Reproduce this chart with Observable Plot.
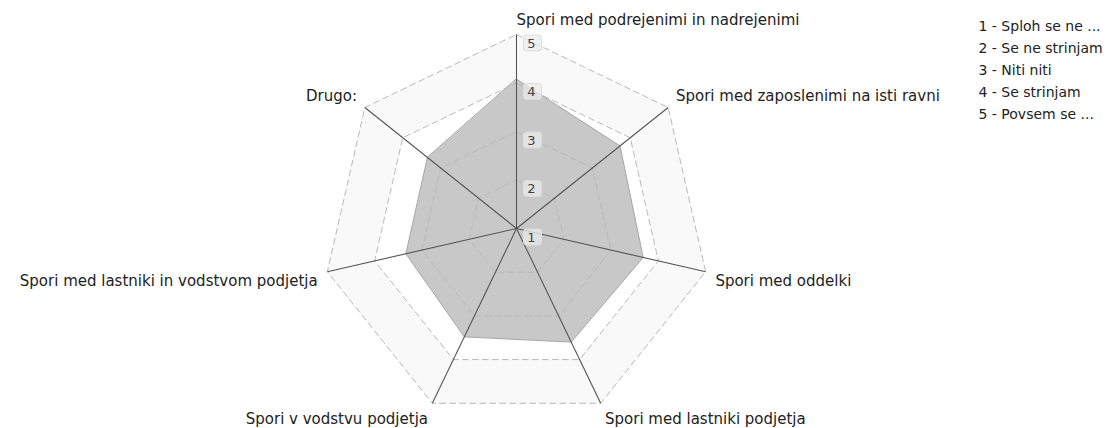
<!DOCTYPE html>
<html><head><meta charset="utf-8">
<script src="https://cdn.jsdelivr.net/npm/d3@7"></script>
<script src="https://cdn.jsdelivr.net/npm/@observablehq/plot@0.6"></script>
<style>
body{margin:0;background:#fff;}
#chart{width:1108px;height:428px;overflow:hidden;}
</style></head><body><div id="chart"></div>
<script>
const categories = [
  "Spori med podrejenimi in nadrejenimi",
  "Spori med zaposlenimi na isti ravni",
  "Spori med oddelki",
  "Spori med lastniki podjetja",
  "Spori v vodstvu podjetja",
  "Spori med lastniki in vodstvom podjetja",
  "Drugo:"
];
const values = [4.08, 3.73, 3.68, 3.60, 3.48, 3.34, 3.35];
const levels = [1, 2, 3, 4, 5];
const legendLabels = [
  "1 - Sploh se ne ...",
  "2 - Se ne strinjam",
  "3 - Niti niti",
  "4 - Se strinjam",
  "5 - Povsem se ..."
];

const n = categories.length;
const idx = d3.range(n);
const ang = i => i * 2 * Math.PI / n;
const px = (i, v) => (v - 1) * Math.sin(ang(i));
const py = (i, v) => (v - 1) * Math.cos(ang(i));
const maxLevel = d3.max(levels);
const labelLevel = maxLevel + 0.206;

const W = 1108, H = 428, CX = 516, CY = 228, R = 194;

const boxSymbol = {
  draw(ctx) {
    const w = 18, h = 16, r = 3;
    ctx.moveTo(-w/2 + r, -h/2);
    ctx.lineTo(w/2 - r, -h/2);
    ctx.arcTo(w/2, -h/2, w/2, -h/2 + r, r);
    ctx.lineTo(w/2, h/2 - r);
    ctx.arcTo(w/2, h/2, w/2 - r, h/2, r);
    ctx.lineTo(-w/2 + r, h/2);
    ctx.arcTo(-w/2, h/2, -w/2, h/2 - r, r);
    ctx.lineTo(-w/2, -h/2 + r);
    ctx.arcTo(-w/2, -h/2, -w/2 + r, -h/2, r);
    ctx.closePath();
  }
};

const marks = [];
// background bands
for (const lvl of [5, 4, 3, 2]) {
  marks.push(Plot.line(idx, {
    x: i => px(i, lvl), y: i => py(i, lvl),
    curve: "linear-closed", fill: lvl % 2 ? "#f9f9f9" : "#ffffff", stroke: "none"
  }));
}
// data polygon
marks.push(Plot.line(idx, {
  x: i => px(i, values[i]), y: i => py(i, values[i]),
  curve: "linear-closed", fill: "#c8c8c8", stroke: "#a6a6a6", strokeWidth: 1
}));
// dashed rings
for (const lvl of levels.filter(l => l > 1)) {
  marks.push(Plot.line(idx, {
    x: i => px(i, lvl), y: i => py(i, lvl),
    curve: "linear-closed", stroke: "#b9b9b9", strokeWidth: 1, strokeDasharray: "6,4"
  }));
}
// axes
marks.push(Plot.link(idx, {
  x1: 0, y1: 0, x2: i => px(i, maxLevel), y2: i => py(i, maxLevel),
  stroke: "#555", strokeWidth: 1.1
}));
// level labels
marks.push(Plot.dot(levels, {
  x: 0, y: d => d - 1, dx: 16, dy: 8.5, symbol: boxSymbol, r: 5,
  fill: "#ebebeb", fillOpacity: 0.75, stroke: "#dddddd", strokeWidth: 1
}));
marks.push(Plot.text(levels, {
  x: 0, y: d => d - 1, dx: 15, dy: 9, text: d => String(d),
  fontSize: 13, fill: "#444"
}));
// axis labels
for (const right of [true, false]) {
  for (const top of [true, false]) {
    const sel = idx.filter(i => (Math.sin(ang(i)) >= -1e-9) === right && (Math.cos(ang(i)) > 0) === top);
    marks.push(Plot.text(sel, {
      x: i => px(i, labelLevel), y: i => py(i, labelLevel),
      text: i => categories[i],
      textAnchor: right ? "start" : "end",
      lineAnchor: top ? "bottom" : "top",
      dy: top ? 0 : 1,
      fontSize: 15, fill: "#222"
    }));
  }
}
// legend
marks.push(Plot.text([legendLabels.join("\n")], {
  frameAnchor: "top-left",
  dx: 978 - (CX - R), dy: (23 + 44) - (CY - R),
  lineAnchor: "middle", lineHeight: 22 / 14, textAnchor: "start",
  fontSize: 14, fill: "#222"
}));

const chart = Plot.plot({
  width: W, height: H,
  marginLeft: CX - R, marginRight: W - CX - R,
  marginTop: CY - R, marginBottom: H - CY - R,
  x: {domain: [-(maxLevel - 1), maxLevel - 1], axis: null},
  y: {domain: [-(maxLevel - 1), maxLevel - 1], axis: null},
  style: {fontFamily: "DejaVu Sans", background: "#fff"},
  marks
});
document.getElementById("chart").appendChild(chart);
</script></body></html>
